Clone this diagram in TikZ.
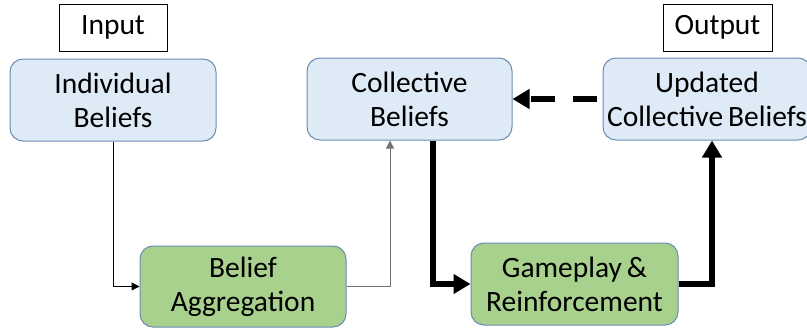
\documentclass[tikz,border=0pt]{standalone}
\usepackage{fontspec}
\setmainfont{Carlito}
\usetikzlibrary{arrows.meta}
\definecolor{blueFill}{HTML}{DEEBF7}
\definecolor{greenFill}{HTML}{A9D18E}
\definecolor{shapeLine}{HTML}{6A8CB4}
\begin{document}
\begin{tikzpicture}[x=1pt,y=-1pt,
  txt/.style={font=\fontsize{29.5}{34}\selectfont, align=center, inner sep=0pt},
  label box/.style={txt, draw=black, line width=1pt, fill=white},
  bluebox/.style={txt, draw=shapeLine, line width=1pt, fill=blueFill, rounded corners=13pt,
    minimum width=206pt, minimum height=82pt},
  greenbox/.style={txt, draw=shapeLine, line width=1pt, fill=greenFill, rounded corners=13pt,
    minimum width=206pt, minimum height=81pt},
  thin link/.style={line width=1pt, -{Triangle[length=8pt,width=8pt]}},
  bold link/.style={line width=5.5pt, -{Triangle[length=17pt,width=19pt]}}
]
\useasboundingbox (0,0) rectangle (807,332);

% Labels above the first and last stages
\node[label box, minimum width=108pt, minimum height=47pt] (input) at (113,27.5) {Input};
\node[label box, minimum width=109pt, minimum height=47pt] (output) at (717.5,27.5) {Output};

% Belief stages
\node[bluebox] (indiv) at (113,100) {Individual\\Beliefs};
\node[bluebox, minimum width=205pt] (coll) at (409.5,99) {Collective\\Beliefs};
\node[bluebox, minimum width=208pt] (upd) at (707,99) {Updated\\Collective\,Beliefs};

% Processing stages
\node[greenbox] (agg) at (243,286.5) {Belief\\Aggregation};
\node[greenbox, minimum width=207pt, minimum height=82pt] (game) at (574.5,284) {Gameplay\,\&\\Reinforcement};

% Connectors
\draw[thin link, black] (indiv.south) |- (agg.west);
\draw[thin link, black!55] (agg.east) -| ([xshift=-19.5pt]coll.south);
\draw[bold link] ([xshift=23.5pt]coll.south) |- (game.west);
\draw[bold link] (game.east) -| ([xshift=5pt]upd.south);
\draw[bold link, dash pattern=on 24pt off 18pt, dash phase=-6pt] (upd.west) -- (coll.east);
\end{tikzpicture}
\end{document}
